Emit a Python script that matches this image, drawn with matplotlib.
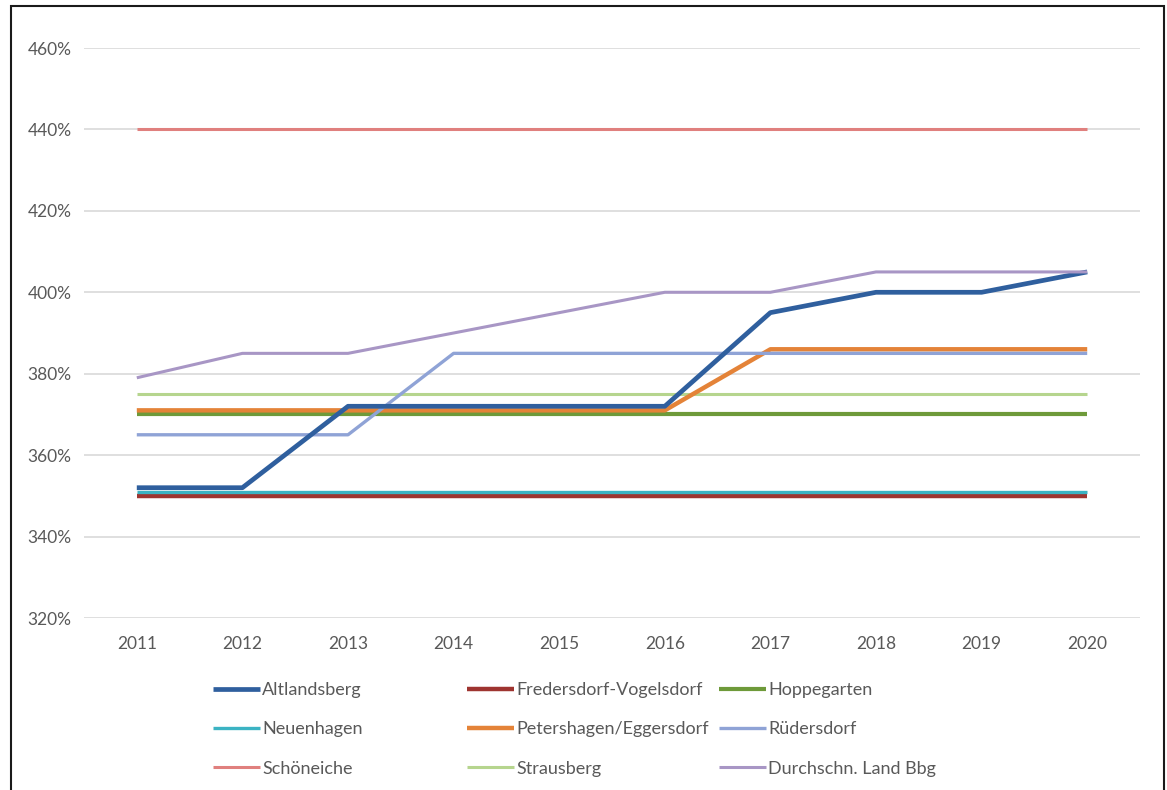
import matplotlib
matplotlib.use("Agg")
import matplotlib.pyplot as plt
from matplotlib.patches import Rectangle
from matplotlib.ticker import FuncFormatter

plt.rcParams['font.family'] = ['Lato', 'DejaVu Sans']

years = ["2011", "2012", "2013", "2014", "2015", "2016", "2017", "2018", "2019", "2020"]

altlandsberg = [352, 352, 372, 372, 372, 372, 395, 400, 400, 405]
fredersdorf = [350, 350, 350, 350, 350, 350, 350, 350, 350, 350]
hoppegarten = [370, 370, 370, 370, 370, 370, 370, 370, 370, 370]
neuenhagen = [351, 351, 351, 351, 351, 351, 351, 351, 351, 351]
petershagen = [371, 371, 371, 371, 371, 371, 386, 386, 386, 386]
ruedersdorf = [365, 365, 365, 385, 385, 385, 385, 385, 385, 385]
schoeneiche = [440, 440, 440, 440, 440, 440, 440, 440, 440, 440]
strausberg = [375, 375, 375, 375, 375, 375, 375, 375, 375, 375]
land_bbg = [379, 385, 385, 390, 395, 400, 400, 405, 405, 405]

names = ["Altlandsberg", "Fredersdorf-Vogelsdorf", "Hoppegarten", "Neuenhagen",
         "Petershagen/Eggersdorf", "Rüdersdorf", "Schöneiche", "Strausberg",
         "Durchschn. Land Bbg"]
series = [altlandsberg, fredersdorf, hoppegarten, neuenhagen, petershagen,
          ruedersdorf, schoeneiche, strausberg, land_bbg]
colors = ["#2F5F9E", "#9E3430", "#6E9A3A", "#3BB3C3", "#E48338",
          "#8FA3D6", "#E0807E", "#B6D58E", "#A896C5"]
widths = [3.4, 3.2, 3.0, 2.4, 3.2, 2.4, 2.2, 2.2, 2.2]
zorders = [9, 3, 4, 5, 6, 7, 8, 4, 10]

W, H = 1167, 790
fig = plt.figure(figsize=(W / 100, H / 100), dpi=100)
fig.patch.set_facecolor("white")

# outer frame
fig.add_artist(Rectangle((11 / W, -0.1), (1164 - 11) / W, 1.1 - 6 / H,
                         transform=fig.transFigure, fill=False,
                         edgecolor="#1a1a1a", linewidth=1.5))

left, right, top, bottom = 84, 1140, 48, 618
ax = fig.add_axes([left / W, 1 - bottom / H, (right - left) / W, (bottom - top) / H])

x = list(range(len(years)))
handles = []
for name, s, c, lw, z in zip(names, series, colors, widths, zorders):
    h, = ax.plot(x, s, color=c, linewidth=lw, label=name, zorder=z,
                 solid_capstyle="butt", solid_joinstyle="round")
    handles.append(h)

ax.set_xlim(-0.5, len(years) - 0.5)
ax.set_ylim(320, 460)
ax.set_yticks(range(320, 461, 20))
ax.yaxis.set_major_formatter(FuncFormatter(lambda v, p: f"{int(v)}%"))
ax.set_xticks(x)
ax.set_xticklabels(years)
ax.grid(axis="y", color="#D9D9D9", linewidth=1.2, zorder=0)
ax.set_axisbelow(True)
for sp in ax.spines.values():
    sp.set_visible(False)
ax.tick_params(axis="both", length=0, colors="#595959", labelsize=12.5)
ax.tick_params(axis="y", pad=9)
ax.tick_params(axis="x", pad=13)

# legend in three columns
col_x = [213, 467, 719]
for ci in range(3):
    hs = handles[ci::3]
    fig.legend(hs, [h.get_label() for h in hs], loc="upper left",
               bbox_to_anchor=(col_x[ci] / W, 1 - 682 / H),
               frameon=False, borderpad=0, borderaxespad=0,
               handlelength=2.6, handletextpad=0.12, labelspacing=1.29,
               fontsize=13, labelcolor="#595959")

fig.savefig("out.png", dpi=100, facecolor="white")
